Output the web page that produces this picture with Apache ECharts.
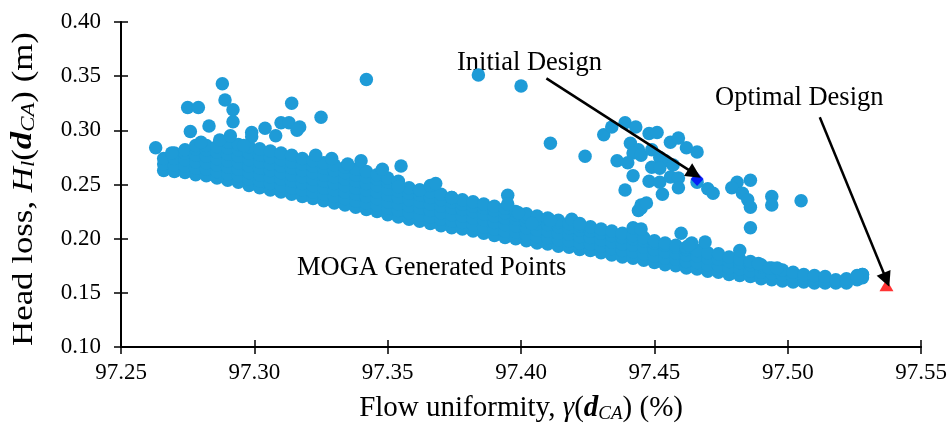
<!DOCTYPE html>
<html>
<head>
<meta charset="utf-8">
<script src="https://cdn.jsdelivr.net/npm/echarts@6/dist/echarts.min.js"></script>
<style>
  html, body { margin: 0; padding: 0; background: #fff; }
  #chart { width: 950px; height: 430px; }
</style>
</head>
<body>
<div id="chart"></div>
<script>
// axis ticks
const xTicks = [97.25, 97.30, 97.35, 97.40, 97.45, 97.50, 97.55];
const yTicks = [0.10, 0.15, 0.20, 0.25, 0.30, 0.35, 0.40];

// dense MOGA band, read column by column: [x, [y values]]
const bandCols = [
  [97.266, [.263, .269, .274]],
  [97.270, [.262, .268, .274, .279]],
  [97.274, [.261, .267, .273, .279, .282]],
  [97.278, [.259, .265, .271, .277, .283, .286]],
  [97.282, [.258, .264, .270, .276, .282, .286]],
  [97.286, [.256, .262, .268, .274, .280, .285]],
  [97.290, [.254, .260, .266, .272, .278, .284, .289]],
  [97.294, [.252, .258, .264, .270, .276, .282, .287]],
  [97.298, [.249, .255, .261, .267, .273, .279, .285]],
  [97.302, [.247, .253, .259, .265, .271, .277, .283]],
  [97.306, [.245, .251, .257, .263, .269, .275, .281]],
  [97.310, [.243, .249, .255, .261, .267, .273, .279]],
  [97.314, [.241, .247, .253, .259, .265, .271, .277]],
  [97.318, [.239, .245, .251, .257, .263, .269, .274]],
  [97.322, [.237, .243, .249, .255, .261, .267, .272]],
  [97.326, [.235, .241, .247, .253, .259, .265, .270]],
  [97.330, [.233, .239, .245, .251, .257, .263, .268]],
  [97.334, [.231, .237, .243, .249, .255, .261, .266]],
  [97.338, [.229, .235, .241, .247, .253, .259, .264]],
  [97.342, [.227, .233, .239, .245, .251, .257, .262]],
  [97.346, [.225, .231, .237, .243, .249, .255, .259]],
  [97.350, [.222, .228, .234, .240, .246, .252, .256]],
  [97.354, [.220, .226, .232, .238, .244, .250, .253]],
  [97.358, [.218, .224, .230, .236, .242, .247]],
  [97.362, [.216, .222, .228, .234, .240, .245]],
  [97.366, [.214, .220, .226, .232, .238, .243]],
  [97.370, [.212, .218, .224, .230, .236, .241]],
  [97.374, [.210, .216, .222, .228, .234, .238]],
  [97.378, [.209, .215, .221, .227, .232, .236]],
  [97.382, [.207, .213, .219, .225, .230, .234]],
  [97.386, [.205, .211, .217, .223, .228, .232]],
  [97.390, [.203, .209, .215, .221, .226, .230]],
  [97.394, [.201, .207, .213, .219, .224, .228]],
  [97.398, [.200, .206, .212, .218, .222, .225]],
  [97.402, [.198, .204, .210, .216, .220, .223]],
  [97.406, [.196, .202, .208, .214, .218, .221]],
  [97.410, [.195, .201, .207, .213, .217, .219]],
  [97.414, [.193, .199, .205, .211, .215, .217]],
  [97.418, [.192, .198, .204, .210, .214]],
  [97.422, [.190, .196, .202, .208, .212]],
  [97.426, [.189, .195, .201, .207, .211]],
  [97.430, [.187, .193, .199, .205, .209]],
  [97.434, [.185, .191, .197, .203, .207]],
  [97.438, [.183, .189, .195, .201, .205]],
  [97.442, [.182, .188, .194, .200, .203]],
  [97.446, [.180, .186, .192, .198, .201]],
  [97.450, [.178, .184, .190, .196, .198]],
  [97.454, [.176, .182, .188, .194, .196]],
  [97.458, [.175, .181, .187, .192, .194]],
  [97.462, [.173, .179, .185, .190, .192]],
  [97.466, [.172, .178, .184, .189]],
  [97.470, [.170, .176, .182, .187]],
  [97.474, [.169, .175, .181, .186]],
  [97.478, [.167, .173, .179, .183]],
  [97.482, [.166, .172, .178, .181]],
  [97.486, [.165, .170, .176, .179]],
  [97.490, [.163, .169, .174, .176]],
  [97.494, [.162, .168, .173]],
  [97.498, [.161, .167, .171]],
  [97.502, [.160, .165, .169]],
  [97.506, [.160, .164, .167]],
  [97.510, [.159, .163, .166]],
  [97.514, [.159, .163, .165]],
  [97.518, [.159, .162]],
  [97.522, [.159, .163]],
  [97.526, [.162, .166]],
  [97.528, [.164, .167]]
];

// scattered points off the band
const extraPts = [
  [97.263, .284], [97.275, .321], [97.279, .321], [97.276, .299], [97.283, .304],
  [97.288, .343], [97.289, .328], [97.292, .319], [97.292, .308], [97.299, .298],
  [97.299, .294], [97.304, .302], [97.308, .295], [97.310, .307], [97.314, .325],
  [97.313, .307], [97.317, .303], [97.316, .300], [97.325, .312], [97.342, .347],
  [97.323, .277], [97.329, .274], [97.335, .269], [97.340, .272], [97.348, .264],
  [97.355, .267], [97.269, .279], [97.280, .289], [97.287, .291], [97.291, .295],
  [97.296, .286],
  [97.354, .248], [97.362, .245], [97.366, .249], [97.368, .251], [97.374, .238],
  [97.395, .240], [97.395, .232], [97.399, .224], [97.404, .214], [97.411, .217],
  [97.419, .218], [97.422, .214],
  [97.384, .351], [97.400, .341], [97.411, .288], [97.424, .276],
  [97.431, .296], [97.434, .303], [97.439, .307], [97.443, .303], [97.448, .297],
  [97.451, .298], [97.456, .289], [97.459, .293], [97.462, .284], [97.466, .280],
  [97.441, .288], [97.444, .282], [97.442, .279], [97.445, .277], [97.449, .282],
  [97.452, .275], [97.454, .272], [97.457, .268], [97.436, .272], [97.440, .270],
  [97.449, .266], [97.452, .265], [97.442, .258], [97.448, .253], [97.452, .252],
  [97.456, .257], [97.459, .256], [97.459, .247], [97.453, .241], [97.439, .245],
  [97.466, .252], [97.470, .246], [97.472, .242], [97.445, .231], [97.444, .226],
  [97.481, .252], [97.486, .254], [97.479, .247], [97.483, .242], [97.485, .236],
  [97.486, .229], [97.494, .239], [97.494, .231], [97.505, .235],
  [97.445, .228], [97.447, .233], [97.442, .210], [97.445, .209], [97.460, .205],
  [97.464, .196], [97.463, .194], [97.469, .197], [97.482, .189], [97.486, .210],
  [97.489, .177], [97.493, .173], [97.496, .173], [97.528, .167], [97.526, .165]
];

const initialDesign = [97.466, 0.255];
const optimalDesign = [97.537, 0.157];

// arrow annotations [from, to]
const initialArrow = [[97.4095, 0.348], [97.465, 0.260]];
const optimalArrow = [[97.512, 0.312], [97.537, 0.162]];

const mogaPts = [];
bandCols.forEach(([x, ys]) => ys.forEach(y => mogaPts.push([x, y])));
extraPts.forEach(p => mogaPts.push(p));

const FONT = '"Liberation Serif", "Times New Roman", serif';

function titleRich(size) {
  return {
    n: { fontFamily: FONT, fontSize: size, color: '#000' },
    i: { fontFamily: FONT, fontSize: size, color: '#000', fontStyle: 'italic' },
    b: { fontFamily: FONT, fontSize: size, color: '#000', fontStyle: 'italic', fontWeight: 'bold' },
    s: { fontFamily: FONT, fontSize: Math.round(size * 0.66), color: '#000', fontStyle: 'italic', verticalAlign: 'bottom' }
  };
}

const chart = echarts.init(document.getElementById('chart'), null, { renderer: 'canvas' });

chart.setOption({
  animation: false,
  backgroundColor: '#fff',
  grid: { left: 121, right: 28, top: 22, bottom: 83 },
  xAxis: [{
    type: 'value',
    min: xTicks[0], max: xTicks[xTicks.length - 1], interval: 0.05,
    name: '{n|Flow uniformity, }{i|γ}{n|(}{b|d}{s|CA}{n|) (%)}',
    nameLocation: 'middle', nameGap: 47,
    nameTextStyle: { rich: titleRich(29) },
    axisLine: { lineStyle: { color: '#000', width: 2 } },
    axisTick: { length: 7, lineStyle: { color: '#000', width: 1.5 } },
    axisLabel: {
      margin: 14, color: '#000', fontFamily: FONT, fontSize: 23,
      formatter: v => v.toFixed(2)
    },
    splitLine: { show: false }
  }, {
    type: 'value', position: 'bottom',
    min: xTicks[0], max: xTicks[xTicks.length - 1], interval: 0.05,
    axisLine: { show: false },
    axisTick: { inside: true, length: 7, lineStyle: { color: '#000', width: 1.5 } },
    axisLabel: { show: false },
    splitLine: { show: false }
  }],
  yAxis: [{
    type: 'value',
    min: yTicks[0], max: yTicks[yTicks.length - 1], interval: 0.05,
    axisLine: { show: true, lineStyle: { color: '#000', width: 2 } },
    axisTick: { show: true, length: 7, lineStyle: { color: '#000', width: 1.5 } },
    axisLabel: {
      margin: 20, color: '#000', fontFamily: FONT, fontSize: 23,
      formatter: v => v.toFixed(2)
    },
    splitLine: { show: false }
  }, {
    type: 'value', position: 'left',
    min: yTicks[0], max: yTicks[yTicks.length - 1], interval: 0.05,
    axisLine: { show: false },
    axisTick: { show: true, inside: true, length: 7, lineStyle: { color: '#000', width: 1.5 } },
    axisLabel: { show: false },
    splitLine: { show: false }
  }],
  graphic: [
    // y axis title, stretched along its length like the original figure
    { type: 'text', x: 24, y: 189, rotation: Math.PI / 2, scaleX: 1.2, silent: true,
      style: {
        text: '{n|Head loss, }{i|H}{s|l}{n|(}{b|d}{s|CA}{n|) (m)}',
        rich: titleRich(29), align: 'center', verticalAlign: 'middle'
      } },
    { type: 'text', x: 457, y: 63, silent: true,
      style: { text: 'Initial Design', font: '26.5px ' + FONT, fill: '#000', verticalAlign: 'middle' } },
    { type: 'text', x: 715, y: 98, silent: true,
      style: { text: 'Optimal Design', font: '26.5px ' + FONT, fill: '#000', verticalAlign: 'middle' } },
    { type: 'text', x: 297, y: 268, silent: true,
      style: { text: 'MOGA Generated Points', font: '26.5px ' + FONT, fill: '#000', verticalAlign: 'middle' } }
  ],
  series: [{
    name: 'MOGA',
    type: 'scatter',
    data: mogaPts,
    symbol: 'circle',
    symbolSize: 13.5,
    itemStyle: { color: '#1e9bd7', opacity: 1, borderWidth: 0, shadowBlur: 0 },
    emphasis: { disabled: true },
    silent: true
  }, {
    name: 'Initial Design',
    type: 'scatter',
    data: [initialDesign],
    symbol: 'diamond',
    symbolSize: [13, 14],
    itemStyle: { color: '#0000ff', borderWidth: 0 },
    silent: true,
    z: 3
  }, {
    name: 'Optimal Design',
    type: 'scatter',
    data: [optimalDesign],
    symbol: 'triangle',
    symbolSize: [14, 12],
    itemStyle: { color: '#ff0000', borderWidth: 0 },
    silent: true,
    z: 3,
    markLine: {
      silent: true,
      symbol: ['none', 'triangle'],
      symbolSize: 15,
      label: { show: false },
      lineStyle: { color: '#000', width: 2.5, type: 'solid' },
      emphasis: { disabled: true },
      data: [
        [{ coord: initialArrow[0] }, { coord: initialArrow[1] }],
        [{ coord: optimalArrow[0] }, { coord: optimalArrow[1] }]
      ]
    }
  }]
});
</script>
</body>
</html>
